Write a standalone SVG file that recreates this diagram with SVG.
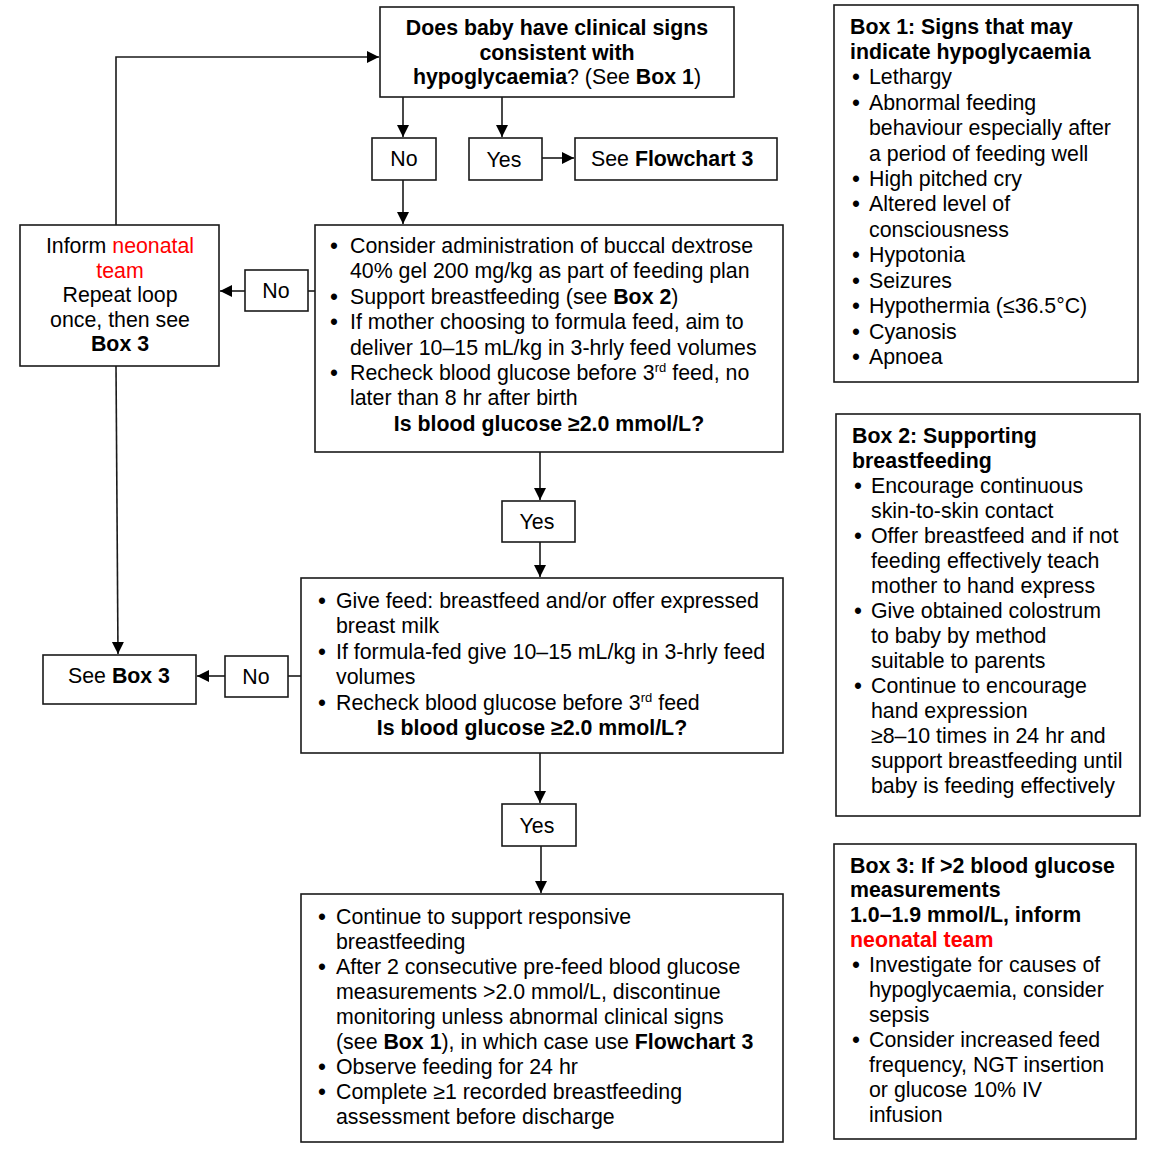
<svg xmlns="http://www.w3.org/2000/svg" width="1165" height="1160" viewBox="0 0 1165 1160">
<style>
text{font-family:"Liberation Sans",Arial,sans-serif;font-size:21.33px;fill:#000}
.b{font-weight:bold}
.c{text-anchor:middle}
.r{fill:#ff0000}
.s{font-size:13px}
.d{text-anchor:middle;font-weight:bold}
rect{fill:#fff;stroke:#1a1a1a;stroke-width:1.6}
.ln{fill:none;stroke:#1a1a1a;stroke-width:1.6}
</style>
<defs>
<marker id="ah" markerUnits="userSpaceOnUse" markerWidth="13" markerHeight="13" refX="12" refY="6" orient="auto">
<path d="M0,0 L12,6 L0,12 Z" fill="#000"/>
</marker>
</defs>
<rect x="0" y="0" width="1165" height="1160" style="fill:#fff;stroke:none"/>

<g id="connectors">
<polyline class="ln" points="116,225 116,57 379,57" marker-end="url(#ah)"/>
<line class="ln" x1="403" y1="97" x2="403" y2="137" marker-end="url(#ah)"/>
<line class="ln" x1="502" y1="97" x2="502" y2="137" marker-end="url(#ah)"/>
<line class="ln" x1="542" y1="158" x2="574" y2="158" marker-end="url(#ah)"/>
<line class="ln" x1="403" y1="180" x2="403" y2="224" marker-end="url(#ah)"/>
<line class="ln" x1="315" y1="291" x2="308" y2="291"/>
<line class="ln" x1="245" y1="291" x2="220" y2="291" marker-end="url(#ah)"/>
<line class="ln" x1="116" y1="366" x2="118" y2="654" marker-end="url(#ah)"/>
<line class="ln" x1="540" y1="452" x2="540" y2="500" marker-end="url(#ah)"/>
<line class="ln" x1="540" y1="542" x2="540" y2="577" marker-end="url(#ah)"/>
<line class="ln" x1="301" y1="676" x2="288" y2="676"/>
<line class="ln" x1="225" y1="676" x2="197" y2="676" marker-end="url(#ah)"/>
<line class="ln" x1="540" y1="753" x2="540" y2="803" marker-end="url(#ah)"/>
<line class="ln" x1="541" y1="846" x2="541" y2="893" marker-end="url(#ah)"/>
</g>

<g id="q1">
<rect x="380" y="7" width="354" height="90"/>
<text class="c b" x="557" y="35">Does baby have clinical signs</text>
<text class="c b" x="557" y="60">consistent with</text>
<text class="c" x="557" y="84"><tspan class="b">hypoglycaemia</tspan>? (See <tspan class="b">Box 1</tspan>)</text>
</g>

<g id="no1">
<rect x="372" y="138" width="64" height="42"/>
<text class="c" x="404" y="166">No</text>
</g>

<g id="yes1">
<rect x="469" y="138" width="73" height="42"/>
<text class="c" x="504" y="167">Yes</text>
</g>

<g id="flow3">
<rect x="575" y="138" width="202" height="42"/>
<text x="591" y="166">See <tspan class="b">Flowchart 3</tspan></text>
</g>

<g id="boxA">
<rect x="315" y="225" width="468" height="227"/>
<text class="d" x="334" y="253">•</text>
<text x="350" y="253">Consider administration of buccal dextrose</text>
<text x="350" y="278.4">40% gel 200 mg/kg as part of feeding plan</text>
<text class="d" x="334" y="303.8">•</text>
<text x="350" y="303.8">Support breastfeeding (see <tspan class="b">Box 2</tspan>)</text>
<text class="d" x="334" y="329.2">•</text>
<text x="350" y="329.2">If mother choosing to formula feed, aim to</text>
<text x="350" y="354.6">deliver 10–15 mL/kg in 3-hrly feed volumes</text>
<text class="d" x="334" y="380">•</text>
<text x="350" y="380">Recheck blood glucose before 3<tspan class="s" dy="-8">rd</tspan><tspan dy="8"> feed, no</tspan></text>
<text x="350" y="405.4">later than 8 hr after birth</text>
<text class="c b" x="549" y="431">Is blood glucose ≥2.0 mmol/L?</text>
</g>

<g id="no2">
<rect x="245" y="270" width="63" height="41"/>
<text class="c" x="276" y="298">No</text>
</g>

<g id="inform">
<rect x="20" y="225" width="199" height="141"/>
<text class="c" x="120" y="253">Inform <tspan class="r">neonatal</tspan></text>
<text class="c r" x="120" y="277.5">team</text>
<text class="c" x="120" y="302">Repeat loop</text>
<text class="c" x="120" y="326.5">once, then see</text>
<text class="c b" x="120" y="351">Box 3</text>
</g>

<g id="yes2">
<rect x="502" y="501" width="73" height="41"/>
<text class="c" x="537" y="529">Yes</text>
</g>

<g id="boxB">
<rect x="301" y="578" width="482" height="175"/>
<text class="d" x="322" y="608">•</text>
<text x="336" y="608">Give feed: breastfeed and/or offer expressed</text>
<text x="336" y="633.4">breast milk</text>
<text class="d" x="322" y="658.8">•</text>
<text x="336" y="658.8">If formula-fed give 10–15 mL/kg in 3-hrly feed</text>
<text x="336" y="684.2">volumes</text>
<text class="d" x="322" y="709.6">•</text>
<text x="336" y="709.6">Recheck blood glucose before 3<tspan class="s" dy="-8">rd</tspan><tspan dy="8"> feed</tspan></text>
<text class="c b" x="532" y="735">Is blood glucose ≥2.0 mmol/L?</text>
</g>

<g id="no3">
<rect x="225" y="656" width="63" height="41"/>
<text class="c" x="256" y="684">No</text>
</g>

<g id="seebox3">
<rect x="43" y="655" width="153" height="49"/>
<text class="c" x="119" y="683">See <tspan class="b">Box 3</tspan></text>
</g>

<g id="yes3">
<rect x="502" y="804" width="74" height="42"/>
<text class="c" x="537" y="833">Yes</text>
</g>

<g id="boxC">
<rect x="301" y="894" width="482" height="248"/>
<text class="d" x="322" y="923.5">•</text>
<text x="336" y="923.5">Continue to support responsive</text>
<text x="336" y="948.6">breastfeeding</text>
<text class="d" x="322" y="973.7">•</text>
<text x="336" y="973.7">After 2 consecutive pre-feed blood glucose</text>
<text x="336" y="998.8">measurements &gt;2.0 mmol/L, discontinue</text>
<text x="336" y="1023.9">monitoring unless abnormal clinical signs</text>
<text x="336" y="1049">(see <tspan class="b">Box 1</tspan>), in which case use <tspan class="b">Flowchart 3</tspan></text>
<text class="d" x="322" y="1074.1">•</text>
<text x="336" y="1074.1">Observe feeding for 24 hr</text>
<text class="d" x="322" y="1099.2">•</text>
<text x="336" y="1099.2">Complete ≥1 recorded breastfeeding</text>
<text x="336" y="1124.3">assessment before discharge</text>
</g>

<g id="box1">
<rect x="834" y="5" width="304" height="377"/>
<text class="b" x="850" y="33.5">Box 1: Signs that may</text>
<text class="b" x="850" y="58.9">indicate hypoglycaemia</text>
<text class="d" x="856" y="84.3">•</text>
<text x="869" y="84.3">Lethargy</text>
<text class="d" x="856" y="109.8">•</text>
<text x="869" y="109.8">Abnormal feeding</text>
<text x="869" y="135.2">behaviour especially after</text>
<text x="869" y="160.6">a period of feeding well</text>
<text class="d" x="856" y="186">•</text>
<text x="869" y="186">High pitched cry</text>
<text class="d" x="856" y="211.4">•</text>
<text x="869" y="211.4">Altered level of</text>
<text x="869" y="236.9">consciousness</text>
<text class="d" x="856" y="262.3">•</text>
<text x="869" y="262.3">Hypotonia</text>
<text class="d" x="856" y="287.7">•</text>
<text x="869" y="287.7">Seizures</text>
<text class="d" x="856" y="313.1">•</text>
<text x="869" y="313.1">Hypothermia (≤36.5°C)</text>
<text class="d" x="856" y="338.6">•</text>
<text x="869" y="338.6">Cyanosis</text>
<text class="d" x="856" y="364">•</text>
<text x="869" y="364">Apnoea</text>
</g>

<g id="box2">
<rect x="836" y="414" width="304" height="402"/>
<text class="b" x="852" y="443">Box 2: Supporting</text>
<text class="b" x="852" y="468">breastfeeding</text>
<text class="d" x="858" y="493">•</text>
<text x="871" y="493">Encourage continuous</text>
<text x="871" y="518">skin-to-skin contact</text>
<text class="d" x="858" y="543">•</text>
<text x="871" y="543">Offer breastfeed and if not</text>
<text x="871" y="568">feeding effectively teach</text>
<text x="871" y="593">mother to hand express</text>
<text class="d" x="858" y="618">•</text>
<text x="871" y="618">Give obtained colostrum</text>
<text x="871" y="643">to baby by method</text>
<text x="871" y="668">suitable to parents</text>
<text class="d" x="858" y="693">•</text>
<text x="871" y="693">Continue to encourage</text>
<text x="871" y="718">hand expression</text>
<text x="871" y="743">≥8–10 times in 24 hr and</text>
<text x="871" y="768">support breastfeeding until</text>
<text x="871" y="793">baby is feeding effectively</text>
</g>

<g id="box3">
<rect x="834" y="844" width="302" height="295"/>
<text class="b" x="850" y="872.5">Box 3: If &gt;2 blood glucose</text>
<text class="b" x="850" y="897.4">measurements</text>
<text class="b" x="850" y="922.3">1.0–1.9 mmol/L, inform</text>
<text class="b r" x="850" y="947.2">neonatal team</text>
<text class="d" x="856" y="972.1">•</text>
<text x="869" y="972.1">Investigate for causes of</text>
<text x="869" y="997">hypoglycaemia, consider</text>
<text x="869" y="1021.9">sepsis</text>
<text class="d" x="856" y="1046.8">•</text>
<text x="869" y="1046.8">Consider increased feed</text>
<text x="869" y="1071.7">frequency, NGT insertion</text>
<text x="869" y="1096.6">or glucose 10% IV</text>
<text x="869" y="1121.5">infusion</text>
</g>
</svg>
